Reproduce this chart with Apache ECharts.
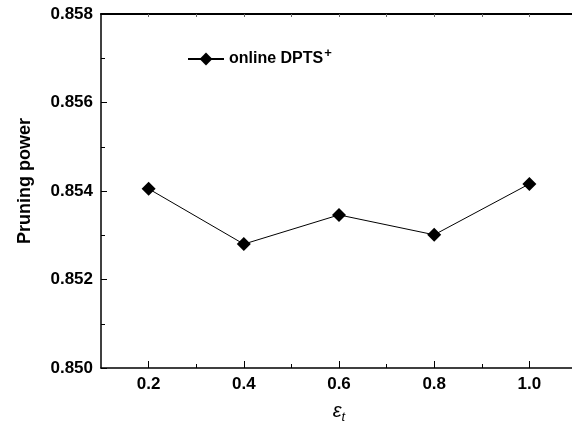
<!DOCTYPE html>
<html>
<head>
<meta charset="utf-8">
<script src="https://cdn.jsdelivr.net/npm/echarts@6/dist/echarts.min.js"></script>
<style>html,body{margin:0;padding:0;background:#fff;}#c{width:572px;height:425px;}</style>
</head>
<body>
<div id="c"></div>
<script>
const xValues = [0.2, 0.4, 0.6, 0.8, 1.0];
const seriesName = 'online DPTS+';
const pruningPower = [0.85405, 0.85280, 0.85346, 0.85301, 0.85416];
const xTickLabels = [0.2, 0.4, 0.6, 0.8, 1.0];
const xMinorTicks = [0.3, 0.5, 0.7, 0.9];

const FONT = '"Liberation Sans", Arial, Helvetica, sans-serif';
const chart = echarts.init(document.getElementById('c'), null, {renderer: 'canvas'});
const axisLine = {show: true, lineStyle: {color: '#000', width: 1.5}};
chart.setOption({
  backgroundColor: '#fff',
  animation: false,
  grid: {left: 101, top: 14, width: 476, height: 354, containLabel: false, outerBoundsMode: 'none'},
  legend: {
    left: 187, top: 47, padding: 0,
    itemWidth: 36, itemHeight: 16,
    data: [seriesName],
    formatter: function () { return '{m|online DPTS}{s|+}'; },
    textStyle: {
      rich: {
        m: {fontFamily: FONT, fontWeight: 'bold', fontSize: 16, color: '#000'},
        s: {fontFamily: FONT, fontWeight: 'bold', fontSize: 13, color: '#000', padding: [0, 0, 11, 1]}
      }
    }
  },
  xAxis: [
    {
      type: 'value', position: 'bottom', min: 0.1, max: 1.1,
      axisLine: axisLine,
      splitLine: {show: false},
      axisTick: {show: true, inside: true, length: 7, customValues: xTickLabels, lineStyle: {color: '#000', width: 1}},
      axisLabel: {show: true, customValues: xTickLabels, margin: 8, fontFamily: FONT, fontWeight: 'bold', fontSize: 17, color: '#000',
        formatter: v => v.toFixed(1)},
      name: '{e|ε}{t|t}', nameLocation: 'middle', nameGap: 31,
      nameTextStyle: {rich: {
        e: {fontFamily: FONT, fontStyle: 'italic', fontSize: 20, color: '#000'},
        t: {fontFamily: FONT, fontStyle: 'italic', fontSize: 13, color: '#000', padding: [12, 0, 0, 0]}
      }}
    },
    {
      type: 'value', position: 'bottom', min: 0.1, max: 1.1,
      axisLine: {show: false}, splitLine: {show: false},
      axisTick: {show: true, inside: true, length: 4, customValues: xMinorTicks, lineStyle: {color: '#000', width: 1}},
      axisLabel: {show: false}
    },
    {
      type: 'value', position: 'top', min: 0.1, max: 1.1,
      axisLine: {show: true, lineStyle: {color: '#000', width: 2}}, splitLine: {show: false},
      axisTick: {show: true, inside: true, length: 3, customValues: xTickLabels.concat(xMinorTicks), lineStyle: {color: '#666', width: 1}},
      axisLabel: {show: false}
    }
  ],
  yAxis: {
    type: 'value', min: 0.850, max: 0.858, interval: 0.002,
    axisLine: axisLine,
    splitLine: {show: false},
    axisTick: {show: true, inside: true, length: 6, lineStyle: {color: '#000', width: 1}},
    minorTick: {show: true, splitNumber: 2, length: 4, lineStyle: {color: '#000', width: 1}},
    axisLabel: {margin: 8, fontFamily: FONT, fontWeight: 'bold', fontSize: 17, color: '#000',
      formatter: v => v.toFixed(3)},
    name: 'Pruning power', nameLocation: 'middle', nameGap: 67, nameRotate: 90,
    nameTextStyle: {fontFamily: FONT, fontWeight: 'bold', fontSize: 18, color: '#000', padding: [0, 0, 0, 20]}
  },
  series: [{
    name: seriesName,
    type: 'line',
    xAxisIndex: 0,
    data: xValues.map((x, i) => [x, pruningPower[i]]),
    symbol: 'diamond', symbolSize: 14,
    itemStyle: {color: '#000'},
    lineStyle: {color: '#000', width: 1}
  }]
});
</script>
</body>
</html>
